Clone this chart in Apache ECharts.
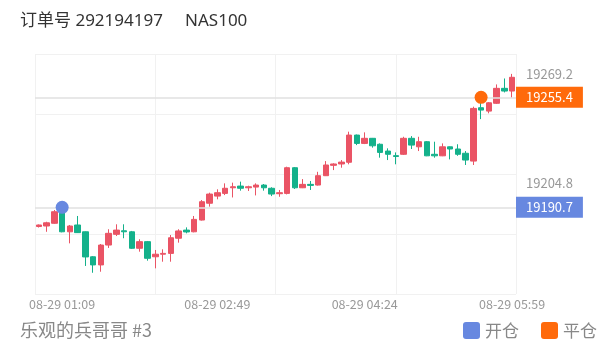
<!DOCTYPE html>
<html>
<head>
<meta charset="utf-8">
<script src="https://cdn.jsdelivr.net/npm/echarts@6/dist/echarts.min.js"></script>
<style>
  html, body { margin: 0; padding: 0; background: #fff; }
  #main { width: 615px; height: 352px; }
</style>
</head>
<body>
<div id="main"></div>
<script>
// 5分钟K线 08-29 00:54 ~ 05:59
var times = [
	'08-29 00:54', '08-29 00:59', '08-29 01:04', '08-29 01:09', '08-29 01:14', '08-29 01:19',
	'08-29 01:24', '08-29 01:29', '08-29 01:34', '08-29 01:39', '08-29 01:44', '08-29 01:49',
	'08-29 01:54', '08-29 01:59', '08-29 02:04', '08-29 02:09', '08-29 02:14', '08-29 02:19',
	'08-29 02:24', '08-29 02:29', '08-29 02:34', '08-29 02:39', '08-29 02:44', '08-29 02:49',
	'08-29 02:54', '08-29 02:59', '08-29 03:04', '08-29 03:09', '08-29 03:14', '08-29 03:19',
	'08-29 03:24', '08-29 03:29', '08-29 03:34', '08-29 03:39', '08-29 03:44', '08-29 03:49',
	'08-29 03:54', '08-29 03:59', '08-29 04:04', '08-29 04:09', '08-29 04:14', '08-29 04:19',
	'08-29 04:24', '08-29 04:29', '08-29 04:34', '08-29 04:39', '08-29 04:44', '08-29 04:49',
	'08-29 04:54', '08-29 04:59', '08-29 05:04', '08-29 05:09', '08-29 05:14', '08-29 05:19',
	'08-29 05:24', '08-29 05:29', '08-29 05:34', '08-29 05:39', '08-29 05:44', '08-29 05:49',
	'08-29 05:54', '08-29 05:59'
];
var shownTimes = ['08-29 01:09', '08-29 02:49', '08-29 04:24', '08-29 05:59'];

var opens = [
	19179.4, 19179.7, 19181.3, 19190.4, 19176.3, 19180.3, 19176.3, 19161.6, 19156.8, 19168.5,
	19174.8, 19176.9, 19176.3, 19166.6, 19170.5, 19161.6, 19163.1, 19163.6, 19172.5, 19177.3,
	19176.3, 19183.2, 19193.1, 19197.3, 19198.9, 19202.2, 19203.2, 19202.2, 19202.6, 19203.8,
	19201.9, 19198.7, 19198.9, 19214.0, 19202.2, 19204.2, 19203.8, 19209.3, 19215.4, 19216.2,
	19217.2, 19233.2, 19228.3, 19231.3, 19227.8, 19223.8, 19221.1, 19221.9, 19231.3, 19226.3,
	19229.3, 19221.9, 19221.0, 19226.3, 19225.0, 19222.5, 19217.9, 19249.3, 19247.3, 19251.9,
	19260.7, 19259.1
];
var closes = [
	19180.3, 19181.6, 19188.1, 19176.3, 19179.7, 19175.8, 19161.5, 19156.8, 19168.5, 19175.4,
	19177.3, 19176.3, 19166.6, 19170.5, 19160.7, 19163.1, 19163.6, 19172.8, 19176.8, 19176.2,
	19183.6, 19194.0, 19198.5, 19199.3, 19201.9, 19202.8, 19201.9, 19202.8, 19203.8, 19202.2,
	19198.5, 19199.3, 19214.0, 19202.2, 19204.2, 19203.6, 19209.3, 19215.6, 19216.2, 19217.3,
	19233.2, 19228.3, 19231.3, 19226.9, 19223.0, 19221.9, 19220.6, 19231.3, 19227.3, 19229.3,
	19221.0, 19221.0, 19226.3, 19225.0, 19221.9, 19218.5, 19248.9, 19247.9, 19252.2, 19260.7,
	19259.1, 19267.2
];
var lows = [
	19178.8, 19176.3, 19181.0, 19176.0, 19169.5, 19175.6, 19156.2, 19152.2, 19152.8, 19166.8,
	19173.8, 19172.5, 19166.2, 19164.6, 19159.3, 19154.8, 19158.7, 19158.7, 19169.9, 19175.4,
	19176.0, 19182.9, 19191.1, 19195.4, 19197.9, 19196.5, 19200.5, 19200.3, 19197.7, 19200.5,
	19197.3, 19196.9, 19198.3, 19201.5, 19202.0, 19200.9, 19203.5, 19209.1, 19212.6, 19214.0,
	19216.0, 19227.3, 19227.9, 19225.8, 19219.9, 19218.5, 19216.0, 19221.5, 19225.0, 19223.8,
	19220.8, 19219.9, 19220.8, 19218.9, 19221.0, 19215.6, 19215.6, 19242.6, 19246.0, 19251.5,
	19258.3, 19255.2
];
var highs = [
	19180.6, 19182.2, 19189.1, 19192.0, 19180.3, 19185.6, 19176.5, 19162.0, 19169.1, 19177.8,
	19180.7, 19180.7, 19176.8, 19171.9, 19170.9, 19165.6, 19166.0, 19174.4, 19177.8, 19178.9,
	19185.6, 19195.0, 19199.3, 19201.3, 19204.8, 19205.2, 19205.8, 19203.4, 19204.8, 19204.4,
	19202.5, 19200.9, 19214.6, 19214.4, 19207.3, 19206.2, 19211.6, 19217.9, 19216.6, 19218.5,
	19235.2, 19233.5, 19234.8, 19231.5, 19228.3, 19225.4, 19223.0, 19232.2, 19232.6, 19232.2,
	19229.7, 19229.3, 19228.3, 19226.5, 19227.8, 19223.8, 19249.9, 19255.6, 19252.6, 19263.0,
	19266.5, 19269.2
];

// 开仓 / 平仓
var openTrade = ['08-29 01:09', 19190.7];
var closeTrade = ['08-29 05:39', 19255.4];
var priceLabels = [19204.8, 19269.2];

var upColor = '#ea5465';
var downColor = '#14b18b';
var openColor = '#6788e0';
var closeColor = '#ff6a0b';
// 圆角方块图例
var squareIcon = 'path://M3,0 H14 Q17,0 17,3 V14 Q17,17 14,17 H3 Q0,17 0,14 V3 Q0,0 3,0 Z';

var kData = [];
for (var i = 0; i < times.length; i++) {
	kData.push([opens[i], closes[i], lows[i], highs[i]]);
}

var chart = echarts.init(document.getElementById('main'), null, { renderer: 'canvas' });

var option = {
	animation: false,
	title: [{
		text: '订单号 292194197     NAS100',
		left: 20,
		top: 12,
		padding: 0,
		textStyle: {
			fontSize: 17,
			lineHeight: 18,
			fontWeight: 'normal',
			color: '#333',
			fontFamily: "'Noto Sans', 'Noto Sans CJK SC', sans-serif"
		}
	}, {
		text: '乐观的兵哥哥 #3',
		left: 20,
		top: 321,
		padding: 0,
		textStyle: {
			fontSize: 18,
			lineHeight: 19,
			fontWeight: 'normal',
			color: '#888',
			fontFamily: "'Noto Sans CJK SC', sans-serif"
		}
	}],
	legend: {
		right: 18,
		top: 322,
		padding: 0,
		itemWidth: 17,
		itemHeight: 17,
		itemGap: 22,
		data: [
			{ name: '开仓', icon: squareIcon },
			{ name: '平仓', icon: squareIcon }
		],
		textStyle: {
			fontSize: 17,
			color: '#888',
			fontFamily: "'Noto Sans CJK SC', sans-serif"
		}
	},
	grid: {
		left: 35,
		right: 99,
		top: 54,
		height: 240
	},
	xAxis: [{
		type: 'category',
		data: times,
		boundaryGap: true,
		axisLine: { show: false },
		axisTick: { show: false },
		splitLine: { show: false },
		axisLabel: {
			interval: function(index, value) {
				return shownTimes.indexOf(value) >= 0;
			},
			margin: 4,
			fontSize: 12.5,
			color: '#999',
			fontFamily: "'Noto Sans CJK SC', sans-serif"
		}
	}, {
		// 竖向网格线
		type: 'value',
		min: 0,
		max: 4,
		interval: 1,
		axisLine: { show: false },
		axisTick: { show: false },
		axisLabel: { show: false },
		splitLine: { show: true, lineStyle: { color: '#f1f1f1', width: 1 } }
	}],
	yAxis: [{
		type: 'value',
		position: 'right',
		min: 19139.7,
		max: 19280.9,
		axisLine: { show: false },
		axisTick: { show: false },
		splitLine: { show: false },
		axisLabel: {
			customValues: priceLabels,
			formatter: function(v) { return v.toFixed(1); },
			margin: 10,
			fontSize: 13,
			color: '#999',
			fontFamily: "'Noto Sans CJK SC', sans-serif"
		}
	}, {
		// 横向网格线
		type: 'value',
		position: 'left',
		min: 0,
		max: 4,
		interval: 1,
		axisLine: { show: false },
		axisTick: { show: false },
		axisLabel: { show: false },
		splitLine: { show: true, lineStyle: { color: '#f1f1f1', width: 1 } }
	}],
	series: [{
		name: 'K线',
		type: 'candlestick',
		xAxisIndex: 0,
		yAxisIndex: 0,
		barWidth: 6,
		data: kData,
		itemStyle: {
			color: upColor,
			color0: downColor,
			borderColor: upColor,
			borderColor0: downColor,
			borderWidth: 1
		},
		markLine: {
			silent: true,
			symbol: 'none',
			lineStyle: { type: 'solid', color: '#e0e0e0', width: 1.5 },
			label: {
				position: 'end',
				distance: 0,
				color: '#fff',
				fontSize: 13,
				lineHeight: 13,
				padding: [4, 10, 4, 10],
				fontFamily: "'Noto Sans CJK SC', sans-serif",
				formatter: function(p) { return p.value.toFixed(1); }
			},
			data: [{
				yAxis: closeTrade[1],
				label: { backgroundColor: closeColor }
			}, {
				yAxis: openTrade[1],
				label: { backgroundColor: openColor }
			}]
		}
	}, {
		name: '开仓',
		type: 'scatter',
		xAxisIndex: 0,
		yAxisIndex: 0,
		symbolSize: 13,
		z: 5,
		itemStyle: { color: openColor, opacity: 1 },
		data: [openTrade]
	}, {
		name: '平仓',
		type: 'scatter',
		xAxisIndex: 0,
		yAxisIndex: 0,
		symbolSize: 13,
		z: 5,
		itemStyle: { color: closeColor, opacity: 1 },
		data: [closeTrade]
	}]
};

chart.setOption(option);
</script>
</body>
</html>
